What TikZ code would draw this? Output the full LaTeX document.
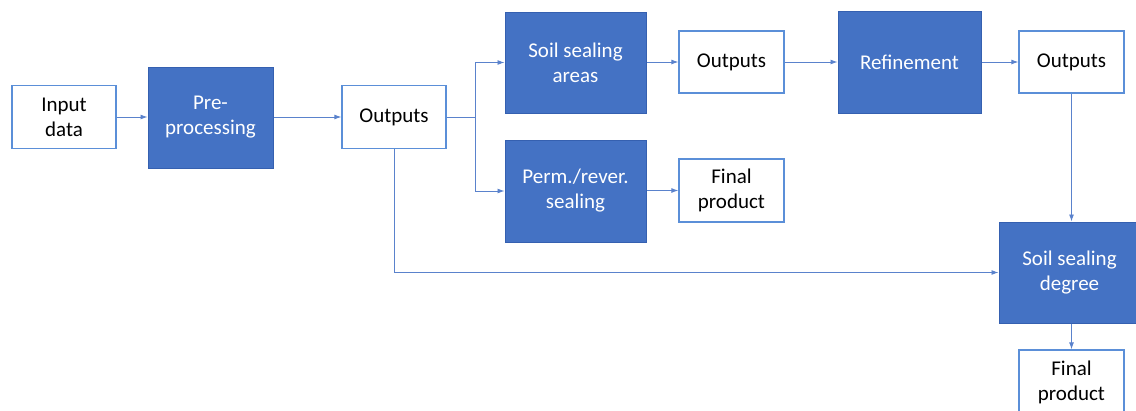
\documentclass[tikz,border=0pt]{standalone}
\usepackage{fontspec}
\setmainfont{Carlito}
\usetikzlibrary{arrows.meta}
\definecolor{procblue}{HTML}{4472C4}
\definecolor{procedge}{HTML}{3560B0}
\definecolor{outedge}{HTML}{5B8FD8}
\definecolor{linkblue}{HTML}{5A82CC}
\tikzset{
  proc/.style={rectangle, fill=procblue, draw=procedge, line width=1pt,
    text=white, align=center, inner sep=0pt,
    font=\fontsize{21}{25}\selectfont},
  outbox/.style={rectangle, fill=white, draw=outedge, line width=1.3pt,
    text=black, align=center, inner sep=0pt,
    font=\fontsize{21}{25}\selectfont},
  link/.style={draw=linkblue, line width=0.9pt},
  arr/.style={link, -{Latex[length=7pt,width=5pt]}}
}
\begin{document}
\begin{tikzpicture}[x=1pt,y=-1pt]
\useasboundingbox (0,0) rectangle (1136,410);
\clip (0,0) rectangle (1136,410);
% processing steps (filled) and intermediate results (outlined)
\node[outbox, minimum width=104pt, minimum height=63pt] (inp)  at (64,117)     {Input\\data};
\node[proc,   minimum width=125pt, minimum height=101pt] (pre) at (210.5,117.5) {Pre-\\processing};
\node[outbox, minimum width=104pt, minimum height=63pt] (out1) at (394,117)    {Outputs};
\node[proc,   minimum width=141pt, minimum height=101pt] (ssa) at (575.5,62.5) {Soil sealing\\areas};
\node[outbox, minimum width=105pt, minimum height=62pt] (out2) at (731.5,62)   {Outputs};
\node[proc,   minimum width=141pt, minimum height=102pt] (prm) at (575.5,191)  {Perm./rever.\\sealing};
\node[outbox, minimum width=105pt, minimum height=63pt] (fin1) at (731.5,190.5){Final\\product};
\node[proc,   minimum width=143pt, minimum height=102pt] (ref) at (909.5,62)   {Refinement};
\node[outbox, minimum width=105pt, minimum height=62pt] (out3) at (1071.5,62)  {Outputs};
\node[proc,   minimum width=141pt, minimum height=101pt] (ssd) at (1069.5,272.5){Soil sealing\\degree};
\node[outbox, minimum width=105pt, minimum height=64pt] (fin3) at (1071.5,382) {Final\\product};
% connectors
\draw[arr] (inp.east) -- (inp.east -| pre.west);
\draw[arr] (pre.east |- out1.west) -- (out1.west);
\draw[link] (out1.east) -- ++(29,0) coordinate (br);
\draw[arr] (br) |- (ssa.west);
\draw[arr] (br) |- (prm.west);
\draw[arr] (ssa.east |- out2.west) -- (out2.west);
\draw[arr] (prm.east |- fin1.west) -- (fin1.west);
\draw[arr] (out2.east) -- (out2.east -| ref.west);
\draw[arr] (ref.east) -- (out3.west);
\draw[arr] (out3.south) -- (out3.south |- ssd.north);
\draw[arr] (out1.south) |- (ssd.west);
\draw[arr] (ssd.south -| fin3.north) -- (fin3.north);
\end{tikzpicture}
\end{document}
